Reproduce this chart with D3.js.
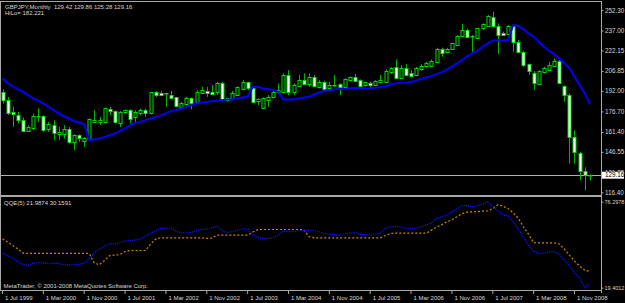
<!DOCTYPE html>
<html>
<head>
<meta charset="utf-8">
<script src="https://d3js.org/d3.v7.min.js"></script>
<style>
  html, body { margin: 0; padding: 0; background: #000; }
  svg { display: block; }
</style>
</head>
<body>
<div id="chart"></div>
<script>
// monthly GBPJPY bars, Jul 1999 .. Feb 2009
const open = [190.84,185.09,176.13,173.89,170.15,162.16,163.96,173.14,173.14,163.21,166.42,160.22,159.70,163.43,153.50,158.95,155.22,155.74,168.88,168.43,
  168.43,178.14,176.88,168.14,175.91,177.62,172.17,175.16,177.62,175.16,191.29,190.09,190.09,188.82,187.11,180.09,182.10,186.36,183.07,190.09,
  192.04,190.84,190.54,197.56,184.57,185.61,188.82,193.83,198.31,193.83,183.82,178.89,185.09,187.56,190.84,191.29,203.76,191.29,195.55,200.03,
  197.04,202.27,195.55,198.91,194.05,195.92,196.82,194.42,200.03,202.49,200.03,196.29,198.16,196.52,198.76,199.28,206.23,209.96,201.89,208.76,
  205.03,203.76,208.02,209.96,210.71,213.69,223.40,220.71,222.95,226.69,232.89,237.37,233.11,231.17,238.64,240.35,247.30,240.58,235.35,234.90,
  240.58,228.63,221.16,211.75,205.03,197.56,206.23,207.49,210.71,214.22,195.55,188.82,157.68,146.03,132.29,129.42]
const high = [193.08,187.56,180.09,176.35,172.17,166.42,175.16,178.89,173.89,168.88,170.15,165.15,166.42,165.15,159.70,159.70,157.68,171.42,177.62,172.62,
  179.34,180.09,177.62,177.10,178.14,178.14,177.62,178.89,178.89,191.29,191.81,191.81,190.54,192.04,187.56,183.82,187.56,187.11,192.56,195.02,
  195.02,196.29,198.76,198.76,187.11,192.04,195.30,200.03,198.76,195.02,186.36,187.11,188.82,192.56,197.56,205.03,207.49,197.56,203.76,205.03,
  205.03,203.76,200.03,199.50,198.76,203.76,197.56,201.30,202.64,204.51,200.55,198.76,198.76,200.03,203.76,208.02,209.73,215.49,211.23,211.97,
  207.49,209.96,211.97,213.69,215.49,224.15,224.15,224.15,227.88,233.63,241.85,238.64,233.63,239.08,242.37,248.57,251.03,242.37,236.10,241.10,
  241.10,229.90,221.91,212.50,206.75,207.49,209.96,213.69,216.23,214.96,196.29,190.09,162.69,146.48,135.05,129.86]
const low = [182.63,173.89,165.15,167.69,161.42,161.42,162.69,168.88,161.42,161.42,155.22,155.22,156.49,152.75,147.75,153.95,150.21,155.22,167.69,166.42,
  167.69,173.89,167.69,165.15,175.16,167.69,167.69,173.89,172.62,174.63,187.56,188.08,180.09,186.36,179.64,178.14,180.09,178.37,182.63,189.57,
  187.56,188.82,188.82,183.82,183.82,185.09,188.08,193.08,192.56,182.63,181.36,178.50,180.09,186.36,190.09,190.09,188.82,188.82,195.02,196.29,
  195.02,195.02,193.83,193.08,192.56,194.80,188.82,193.83,198.91,198.76,195.55,195.02,195.02,195.55,197.79,198.76,204.51,201.15,201.30,202.79,
  202.27,203.01,206.97,209.21,209.96,212.95,217.43,219.97,222.43,226.16,231.91,231.62,221.16,230.64,237.37,239.83,239.38,219.44,232.89,234.38,
  221.16,220.41,209.96,203.76,192.56,196.29,205.03,206.75,209.96,197.04,183.82,137.82,137.82,125.35,117.88,125.28]
const close = [185.09,175.16,174.63,170.15,161.94,165.15,173.14,172.90,162.69,167.17,160.67,161.42,163.43,153.50,158.95,156.94,157.23,170.68,170.15,170.15,
  178.89,176.35,168.43,176.35,177.62,170.68,175.91,177.62,175.61,190.84,189.35,188.82,189.90,186.81,180.09,183.07,186.36,182.63,190.84,192.56,
  190.54,189.57,197.56,184.57,186.36,190.09,195.02,198.76,193.83,183.37,185.61,186.36,187.56,191.29,192.56,203.76,191.29,196.29,200.03,197.26,
  202.49,195.55,198.91,193.53,196.29,196.29,194.57,200.62,202.27,199.43,195.92,198.53,196.89,199.50,200.40,207.12,208.99,201.89,209.21,203.54,
  203.16,208.99,210.48,212.50,214.44,223.18,220.71,223.18,227.43,233.11,237.37,232.36,233.26,238.64,241.62,247.82,240.58,233.63,233.63,240.58,
  228.63,221.16,211.23,206.23,197.56,206.97,209.21,211.23,214.22,197.56,188.82,157.68,146.48,132.29,129.42,129.16]

// HiLo indicator (blue line on the price window)
const hilo = [201.3,197.8,195.5,193.1,191.3,188.8,186.4,184.6,182.6,180.1,177.6,175.2,173.1,171.4,169.4,168.4,166.9,155.2,156.0,156.5,
  157.7,158.9,160.2,162.2,164.0,166.4,168.1,168.9,170.2,171.4,172.6,173.9,175.2,177.1,177.6,178.9,180.1,181.4,182.6,183.4,
  183.8,184.4,184.6,185.1,185.6,185.8,186.4,187.1,187.6,195.0,195.0,193.8,193.3,192.6,191.3,185.6,185.6,185.6,186.4,187.1,
  187.6,189.3,190.8,192.0,192.6,193.1,193.5,193.5,194.0,194.3,194.0,193.8,193.8,194.3,194.8,195.5,196.8,197.6,198.0,198.3,
  198.7,199.8,201.0,202.0,203.2,204.5,206.0,207.9,210.0,212.5,215.0,217.9,220.0,221.9,224.9,227.4,229.4,229.9,229.4,229.9,
  241.1,240.4,237.9,234.9,232.4,228.6,224.9,221.9,219.4,216.2,212.7,209.0,202.5,196.3,190.1,182.221]

// QQE(5): smoothed RSI (blue) and trailing level (orange)
const qqeRsi = [42.3,40.7,39.0,36.7,34.7,34.1,35.7,36.0,35.7,35.5,35.5,35.4,34.7,34.4,34.7,34.9,35.7,38.7,42.3,45.0,
  46.9,48.6,48.3,49.2,50.2,50.7,50.9,51.6,53.5,55.5,57.0,58.6,58.8,58.8,56.8,55.8,55.7,56.0,57.2,58.0,
  58.3,59.1,60.1,57.2,55.8,56.5,57.3,58.6,58.1,54.5,52.5,52.0,52.0,52.5,53.9,57.0,56.5,56.6,57.0,57.3,
  57.5,57.2,56.5,55.3,54.8,54.6,54.2,55.2,55.7,55.8,54.8,54.5,54.2,54.8,55.5,58.8,59.8,59.9,59.7,58.7,
  58.3,58.8,59.8,60.8,62.4,65.2,66.4,67.4,69.6,71.7,73.7,73.7,73.0,73.5,74.6,76.2978,73.0,70.2,67.7,66.7,
  63.1,58.1,53.0,47.3,43.6,42.1,42.3,43.0,43.3,41.7,37.7,34.1,29.1,25.8,19.4012,21.9874]
const qqeTrail = [51.6,49.6,47.3,45.0,42.3,42.1,42.1,42.1,42.1,42.1,42.1,42.1,42.1,42.1,42.1,42.1,42.1,42.0,35.5,34.7,
  37.4,40.7,41.0,41.3,43.3,44.0,44.0,44.0,44.0,48.3,51.6,52.4,52.4,52.4,52.4,52.4,52.4,52.4,52.4,52.4,
  52.0,52.2,54.2,54.2,54.2,54.2,54.2,54.2,54.2,56.2,57.9,57.9,57.9,57.9,57.9,57.9,57.9,57.9,57.9,57.8,
  53.2,52.4,52.4,52.4,52.4,52.4,52.4,52.4,52.4,52.4,52.4,52.4,52.4,52.4,52.4,53.9,55.3,55.5,55.5,55.5,
  55.5,55.5,55.5,55.5,57.5,59.5,61.1,63.0,64.4,66.3,68.4,69.4,69.6,69.7,70.0,70.2,71.7,74.3,73.3,71.8,
  69.0,65.4,59.7,54.8,49.2,49.1,49.1,49.1,49.1,48.3,45.0,41.0,37.0,33.7,31.1,30.1591]

const priceTicks = [252.30, 237.00, 222.15, 206.85, 192.00, 176.70, 161.40, 146.55, 131.25, 116.40]
const qqeTicks = [76.2978, 19.4012]
const dateTicks = [0, 8, 16, 24, 32, 40, 48, 56, 64, 72, 80, 88, 96, 104, 112]
const dateLabels = ["1 Jul 1999", "1 Mar 2000", "1 Nov 2000", "1 Jul 2001", "1 Mar 2002", "1 Nov 2002", "1 Jul 2003",
  "1 Mar 2004", "1 Nov 2004", "1 Jul 2005", "1 Mar 2006", "1 Nov 2006", "1 Jul 2007", "1 Mar 2008", "1 Nov 2008"]

const width = 625
const height = 303
const axisX = 601
const fg = "#d8d8d8"
const frame = "#a8a8a8"
const font = "'Liberation Sans', Arial, sans-serif"

const x = d3.scaleLinear().domain([0, open.length - 1]).range([2.5, 589.8])
const y = d3.scaleLinear().domain([116.40, 252.30]).range([192.3, 10])
const yq = d3.scaleLinear().domain([19.4012, 76.2978]).range([287.7, 201.7])
const px = i => Math.round(x(i)) + 0.5

const svg = d3.select("#chart").append("svg")
  .attr("width", width)
  .attr("height", height)
  .attr("font-family", font)
  .style("background", "#000")

svg.append("rect").attr("width", width).attr("height", height).attr("fill", "#000")

const defs = svg.append("defs")
defs.append("clipPath").attr("id", "clipMain")
  .append("rect").attr("x", 1).attr("y", 2).attr("width", axisX - 1).attr("height", 192)
defs.append("clipPath").attr("id", "clipSub")
  .append("rect").attr("x", 1).attr("y", 197).attr("width", axisX - 1).attr("height", 94)

// ---- price window ----
const gMain = svg.append("g").attr("clip-path", "url(#clipMain)")

// current price line
gMain.append("line")
  .attr("x1", 0).attr("x2", axisX)
  .attr("y1", Math.round(y(close[close.length - 1])) + 0.5)
  .attr("y2", Math.round(y(close[close.length - 1])) + 0.5)
  .attr("stroke", "#b0b0b0")

const bars = d3.range(open.length)

gMain.append("g").selectAll("line").data(bars).join("line")
  .attr("x1", px).attr("x2", px)
  .attr("y1", i => y(high[i]))
  .attr("y2", i => y(low[i]))
  .attr("stroke", "#00b400")
  .attr("stroke-width", 1)

gMain.append("g").selectAll("rect").data(bars).join("rect")
  .attr("x", i => Math.round(x(i)) - 1)
  .attr("width", 3)
  .attr("y", i => Math.round(y(Math.max(open[i], close[i]))) + 0.5)
  .attr("height", i => Math.max(0.5, Math.round(Math.abs(y(open[i]) - y(close[i])))))
  .attr("fill", i => close[i] < open[i] ? "#ffffff" : "#000000")
  .attr("stroke", "#00dc00")
  .attr("stroke-width", 1)

gMain.append("path")
  .datum(bars)
  .attr("fill", "none")
  .attr("stroke", "#0000ff")
  .attr("stroke-width", 2)
  .attr("d", d3.line().x(i => x(i)).y(i => y(hilo[i])))

// ---- QQE window ----
const gSub = svg.append("g").attr("clip-path", "url(#clipSub)")

gSub.append("path")
  .datum(bars)
  .attr("fill", "none")
  .attr("stroke", "#d0860c")
  .attr("stroke-width", 1.2)
  .attr("stroke-dasharray", "2,2")
  .attr("d", d3.line().x(i => x(i)).y(i => yq(qqeTrail[i])))

gSub.append("path")
  .datum(bars)
  .attr("fill", "none")
  .attr("stroke", "#1010ff")
  .attr("stroke-width", 1.3)
  .attr("stroke-dasharray", "1.2,1")
  .attr("d", d3.line().x(i => x(i)).y(i => yq(qqeRsi[i])))

// ---- frames ----
const gFrame = svg.append("g").attr("stroke", frame).attr("shape-rendering", "crispEdges")
gFrame.append("line").attr("x1", 0).attr("x2", axisX).attr("y1", 1.5).attr("y2", 1.5)
gFrame.append("line").attr("x1", 0).attr("x2", axisX).attr("y1", 195.5).attr("y2", 195.5).attr("stroke-width", 2)
gFrame.append("line").attr("x1", 0.5).attr("x2", 0.5).attr("y1", 1).attr("y2", 291)
gFrame.append("line").attr("x1", axisX + 0.5).attr("x2", axisX + 0.5).attr("y1", 1).attr("y2", 293)
gFrame.append("line").attr("x1", 0).attr("x2", axisX).attr("y1", 290.5).attr("y2", 290.5)

// ---- axes ----
const styleAxis = g => {
  g.select(".domain").remove()
  g.selectAll(".tick line").attr("stroke", frame)
  g.selectAll(".tick text").attr("fill", fg).attr("font-family", font)
}

svg.append("g")
  .attr("transform", `translate(${axisX + 0.5},0)`)
  .call(d3.axisRight(y).tickValues(priceTicks).tickFormat(d3.format(".2f")).tickSize(2).tickPadding(1.5))
  .attr("font-size", 6.3)
  .call(styleAxis)

svg.append("g")
  .attr("transform", `translate(${axisX + 0.5},0)`)
  .call(d3.axisRight(yq).tickValues(qqeTicks).tickFormat(d3.format(".4f")).tickSize(2).tickPadding(1))
  .attr("font-size", 5.5)
  .call(styleAxis)

const xAxis = svg.append("g")
  .attr("transform", "translate(0,291)")
  .call(d3.axisBottom(x).tickValues(dateTicks).tickFormat((d, k) => dateLabels[k]).tickSize(3).tickPadding(1))
  .attr("font-size", 6)
  .call(styleAxis)
xAxis.selectAll(".tick line").attr("transform", "translate(-0.5,0)")
xAxis.selectAll(".tick text").attr("text-anchor", "start").attr("x", 2).attr("dy", "0.75em")

// current price label on the axis
const last = close[close.length - 1]
svg.append("rect")
  .attr("x", axisX + 1).attr("y", y(last) - 3.5)
  .attr("width", 22).attr("height", 7)
  .attr("fill", "#ffffff")
svg.append("text")
  .attr("x", axisX + 4).attr("y", y(last))
  .attr("dy", "0.35em")
  .attr("font-size", 6.3)
  .attr("fill", "#000")
  .text(last.toFixed(2))

// ---- labels ----
svg.append("text").attr("x", 5).attr("y", 8.5)
  .attr("font-size", 6).attr("fill", fg)
  .attr("xml:space", "preserve")
  .text(`GBPJPY,Monthly  ${open[open.length - 1].toFixed(2)} ${high[high.length - 1].toFixed(2)} ${low[low.length - 1].toFixed(2)} ${close[close.length - 1].toFixed(2)}`)
svg.append("text").attr("x", 5).attr("y", 15)
  .attr("font-size", 6).attr("fill", fg)
  .text(`HiLo= ${hilo[hilo.length - 1].toFixed(3)}`)
svg.append("text").attr("x", 4).attr("y", 205)
  .attr("font-size", 6).attr("fill", fg)
  .text(`QQE(5) ${qqeRsi[qqeRsi.length - 1]} ${qqeTrail[qqeTrail.length - 1]}`)
svg.append("text").attr("x", 3.5).attr("y", 288)
  .attr("font-size", 6).attr("fill", fg)
  .text("MetaTrader, \u00a9 2001-2008 MetaQuotes Software Corp.")
</script>
</body>
</html>
